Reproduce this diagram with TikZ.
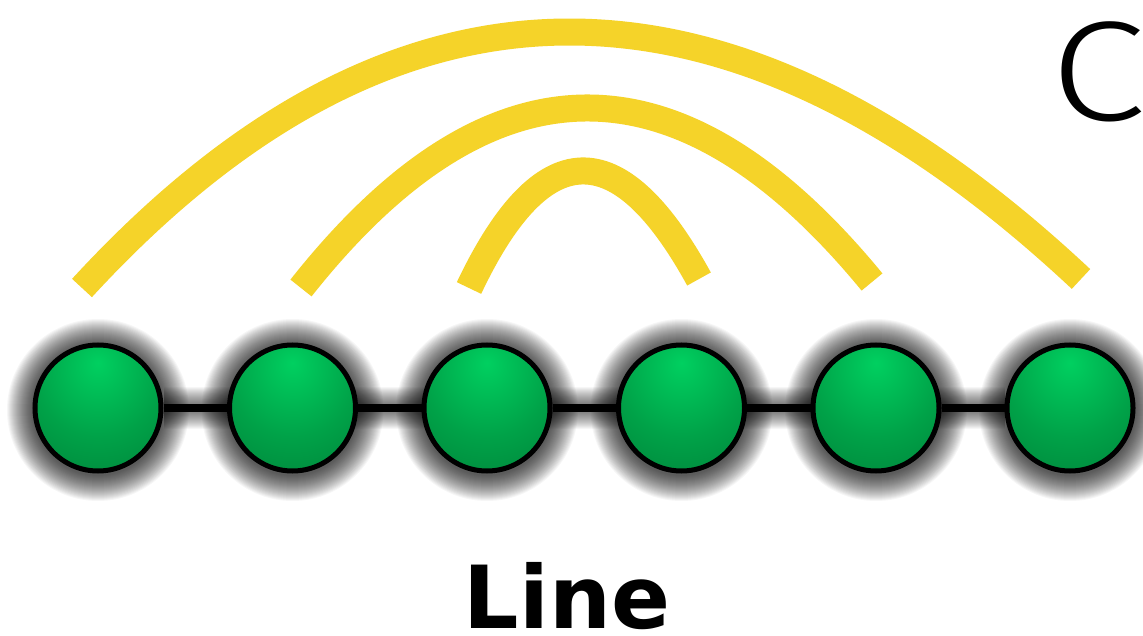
\documentclass[tikz,border=0pt]{standalone}
\usepackage{fontspec}
\newfontfamily\labelfont{DejaVu Sans}
\newfontfamily\thinfont{Fira Sans Light}[FakeStretch=1.22]
\usetikzlibrary{backgrounds}

\definecolor{arcyellow}{RGB}{245,211,41}
\definecolor{gA}{RGB}{0,208,96}
\definecolor{gB}{RGB}{0,162,72}
\definecolor{gC}{RGB}{0,126,55}
\definecolor{gD}{RGB}{0,92,40}

% green bead with its highlight above the centre
\pgfdeclareradialshading{greenball}{\pgfpoint{0bp}{18bp}}{%
  color(0bp)=(gA); color(25bp)=(gB); color(50bp)=(gC);
  color(70bp)=(gD); color(100bp)=(gD)}

\begin{document}
\begin{tikzpicture}[x=1pt, y=-1pt,
  bead/.style={circle, minimum size=126pt, inner sep=0pt,
    shading=greenball, draw=black, line width=5pt},
  chord/.style={draw=arcyellow, line width=27pt, line cap=butt},
  halo/.style={black, opacity=0.035}]
\useasboundingbox (0,0) rectangle (1143,636);

% beads of the chain
\foreach \i/\x in {1/98, 2/292.5, 3/487, 4/681.5, 5/876, 6/1070}
  \node[bead] (b\i) at (\x,408) {};

% soft shadow and the black backbone
\begin{scope}[on background layer]
  \fill[white] (0,0) rectangle (1143,636);
  \foreach \i in {1,...,6}
    \foreach \r in {66,67,...,91}
      \fill[halo] ([yshift=-2pt]b\i.center) circle (\r pt);
  \foreach \w in {10,12,...,42}
    \draw[halo, line width=\w pt] (b1) -- (b6);
  \draw[black, line width=8pt] (b1) -- (b2) -- (b3) -- (b4) -- (b5) -- (b6);
\end{scope}

% end points of the contact arcs
\coordinate (o1) at (82,288);   \coordinate (o2) at (1081,279);
\coordinate (m1) at (301,288);  \coordinate (m2) at (872,282);
\coordinate (n1) at (469,288);  \coordinate (n2) at (699,279);

\draw[chord] (o1) .. controls (393,-50.3) and (726,-53.3) .. (o2);
\draw[chord] (m1) .. controls (489.3,50) and (679.7,48) .. (m2);
\draw[chord] (n1) .. controls (541.7,135) and (618.3,132) .. (n2);

% labels
\node[anchor=base, inner sep=0pt,
  font=\labelfont\bfseries\fontsize{87}{87}\selectfont] (lbl) at (567,628) {Line};
\node[anchor=base west, inner sep=0pt,
  font=\thinfont\fontsize{142}{142}\selectfont] (tag) at (1050,121) {C};
\end{tikzpicture}
\end{document}
